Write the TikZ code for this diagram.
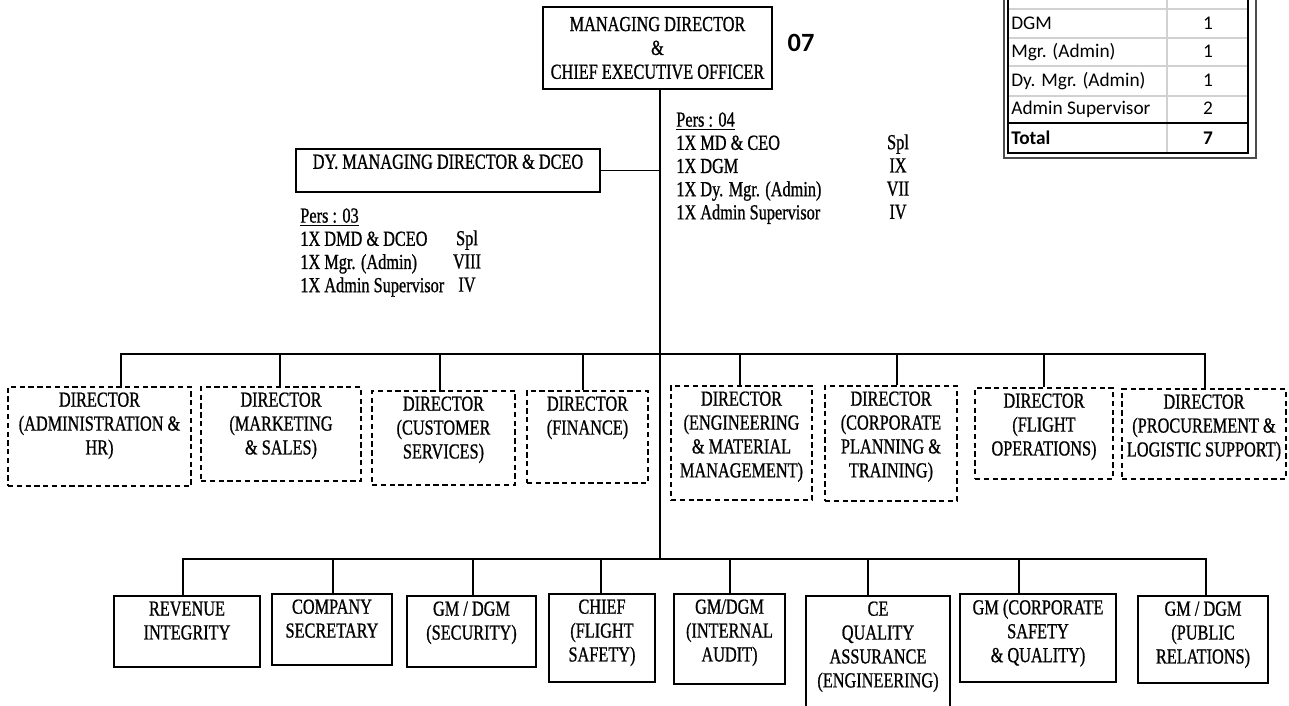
\documentclass[tikz,border=0pt]{standalone}
\usepackage{fontspec}
\setmainfont{Liberation Serif}
\newfontfamily\orgfont[FakeStretch=0.76, FakeBold=0.8]{Liberation Serif}
\newfontfamily\tabfont{Carlito}
\newcommand\pxl{0.02cm}
\tikzset{
  boxsize/.style 2 args={minimum width=#1*\pxl, minimum height=#2*\pxl},
  orgbox/.style={draw, line width=0.8pt, inner sep=0pt},
  dirbox/.style={orgbox, dash pattern=on 3pt off 2pt},
  boxtext/.style={anchor=north, align=center, font=\orgfont\fontsize{12.2}{13.6}\selectfont},
  perstext/.style={inner sep=0pt, font=\orgfont\fontsize{12.2}{13.2}\selectfont},
  conn/.style={line width=0.8pt},
  tabtext/.style={inner sep=0pt, font=\tabfont\fontsize{11}{13}\selectfont},
  tabbold/.style={inner sep=0pt, font=\tabfont\bfseries\fontsize{11}{13}\selectfont},
  gridline/.style={black!18, line width=0.8pt}
}

\begin{document}
\begin{tikzpicture}[x=0.02cm, y=-0.02cm]

\useasboundingbox (0,0) rectangle (1289,706);
\clip (0,0) rectangle (1289,706);

% top of the chart
\node[orgbox, boxsize={229}{82}, align=center, font=\orgfont\fontsize{12.2}{13.6}\selectfont] (md) at (657.5,48) {MANAGING DIRECTOR\\\&\\CHIEF EXECUTIVE OFFICER};
\node[tabbold, font=\tabfont\bfseries\fontsize{15}{17}\selectfont] (pcount) at (801,43) {07};

\node[orgbox, boxsize={304}{43}, label={[boxtext]north:{DY. MANAGING DIRECTOR \& DCEO}}] (dmd) at (448,170.5) {};

\coordinate (dbus) at (660,354);
\coordinate (trunk) at (660,559);

\draw[conn] (md.south -| trunk) -- (trunk);
\draw[conn] (dmd.east) -- (dmd.east -| trunk);

% personnel
\node[perstext, anchor=north west, align=left] (persMD) at (676,112) {\underline{Pers : 04}\\1X MD \& CEO\\1X DGM\\1X Dy. Mgr. (Admin)\\1X Admin Supervisor};
\node[perstext, anchor=north, align=center] (gradeMD) at (898,134) {Spl\\IX\\VII\\IV};

\node[perstext, anchor=north west, align=left] (persDMD) at (300,208) {\underline{Pers : 03}\\1X DMD \& DCEO\\1X Mgr. (Admin)\\1X Admin Supervisor};
\node[perstext, anchor=north, align=center] (gradeDMD) at (467,230) {Spl\\VIII\\IV};

% directors
\node[dirbox, boxsize={183}{99}, label={[boxtext]north:{DIRECTOR\\(ADMINISTRATION \&\\HR)}}] (dAdm) at (99.5,436.5) {};
\node[dirbox, boxsize={160}{94}, label={[boxtext]north:{DIRECTOR\\(MARKETING\\\& SALES)}}] (dMkt) at (281,434) {};
\node[dirbox, boxsize={143}{94}, label={[boxtext]north:{DIRECTOR\\(CUSTOMER\\SERVICES)}}] (dCus) at (443.5,438) {};
\node[dirbox, boxsize={121}{92}, label={[boxtext]north:{DIRECTOR\\(FINANCE)}}] (dFin) at (587.5,437) {};
\node[dirbox, boxsize={141}{114}, label={[boxtext]north:{DIRECTOR\\(ENGINEERING\\\& MATERIAL\\MANAGEMENT)}}] (dEng) at (741.5,443) {};
\node[dirbox, boxsize={132}{115}, label={[boxtext]north:{DIRECTOR\\(CORPORATE\\PLANNING \&\\TRAINING)}}] (dCpt) at (891,443.5) {};
\node[dirbox, boxsize={138}{91}, label={[boxtext]north:{DIRECTOR\\(FLIGHT\\OPERATIONS)}}] (dFlt) at (1044,433.5) {};
\node[dirbox, boxsize={164}{90}, label={[boxtext]north:{DIRECTOR\\(PROCUREMENT \&\\LOGISTIC SUPPORT)}}] (dPro) at (1204,434) {};

\draw[conn] (121,0 |- dAdm.north) |- (dbus);
\draw[conn] (280,0 |- dMkt.north) |- (dbus);
\draw[conn] (440,0 |- dCus.north) |- (dbus);
\draw[conn] (583,0 |- dFin.north) |- (dbus);
\draw[conn] (740,0 |- dEng.north) |- (dbus);
\draw[conn] (897,0 |- dCpt.north) |- (dbus);
\draw[conn] (1044,0 |- dFlt.north) |- (dbus);
\draw[conn] (1205,0 |- dPro.north) |- (dbus);

% staff under MD
\node[orgbox, boxsize={146}{71}, label={[boxtext]north:{REVENUE\\INTEGRITY}}] (bRev) at (187,631.5) {};
\node[orgbox, boxsize={120}{71}, label={[boxtext]north:{COMPANY\\SECRETARY}}] (bSec) at (332,629.5) {};
\node[orgbox, boxsize={129}{71}, label={[boxtext]north:{GM / DGM\\(SECURITY)}}] (bScy) at (471.5,631.5) {};
\node[orgbox, boxsize={106}{88}, label={[boxtext]north:{CHIEF\\(FLIGHT\\SAFETY)}}] (bFsa) at (602,638) {};
\node[orgbox, boxsize={111}{90}, label={[boxtext]north:{GM/DGM\\(INTERNAL\\AUDIT)}}] (bAud) at (729.5,639) {};
\node[orgbox, boxsize={144}{116}, label={[boxtext]north:{CE\\QUALITY\\ASSURANCE\\(ENGINEERING)}}] (bQa) at (878,654) {};
\node[orgbox, boxsize={156}{88}, label={[boxtext]north:{GM (CORPORATE\\SAFETY\\\& QUALITY)}}] (bCsq) at (1038,638) {};
\node[orgbox, boxsize={130}{87}, label={[boxtext]north:{GM / DGM\\(PUBLIC\\RELATIONS)}}] (bPr) at (1203,639.5) {};

\draw[conn] (183,0 |- bRev.north) |- (trunk);
\draw[conn] (333,0 |- bSec.north) |- (trunk);
\draw[conn] (473,0 |- bScy.north) |- (trunk);
\draw[conn] (601,0 |- bFsa.north) |- (trunk);
\draw[conn] (730,0 |- bAud.north) |- (trunk);
\draw[conn] (868,0 |- bQa.north) |- (trunk);
\draw[conn] (1019,0 |- bCsq.north) |- (trunk);
\draw[conn] (1206,0 |- bPr.north) |- (trunk);

% strength table
\draw[line width=0.6pt, black!70] (1004,-20) |- (1256,158) -- (1256,-20);
\foreach \y in {9,38,66,96}
  \draw[gridline] (1008,\y) -- (1248,\y);
\draw[gridline] (1167,-20) -- (1167,153);
\draw[line width=1.4pt] (1008,123) -- (1248,123);
\draw[line width=1.4pt] (1008,-20) |- (1248,153) -- (1248,-20);

\foreach \nm/\n/\y [count=\i] in {DMD/1/1, DGM/1/30, Mgr. (Admin)/1/58, Dy. Mgr. (Admin)/1/87, Admin Supervisor/2/115}{
  \node[tabtext, anchor=base west] (post\i) at (1011,\y) {\nm};
  \node[tabtext, anchor=base] (num\i) at (1208,\y) {\n};
}
\node[tabbold, anchor=base west] (post6) at (1011,145) {Total};
\node[tabbold, anchor=base] (num6) at (1208,145) {7};

\end{tikzpicture}
\end{document}
